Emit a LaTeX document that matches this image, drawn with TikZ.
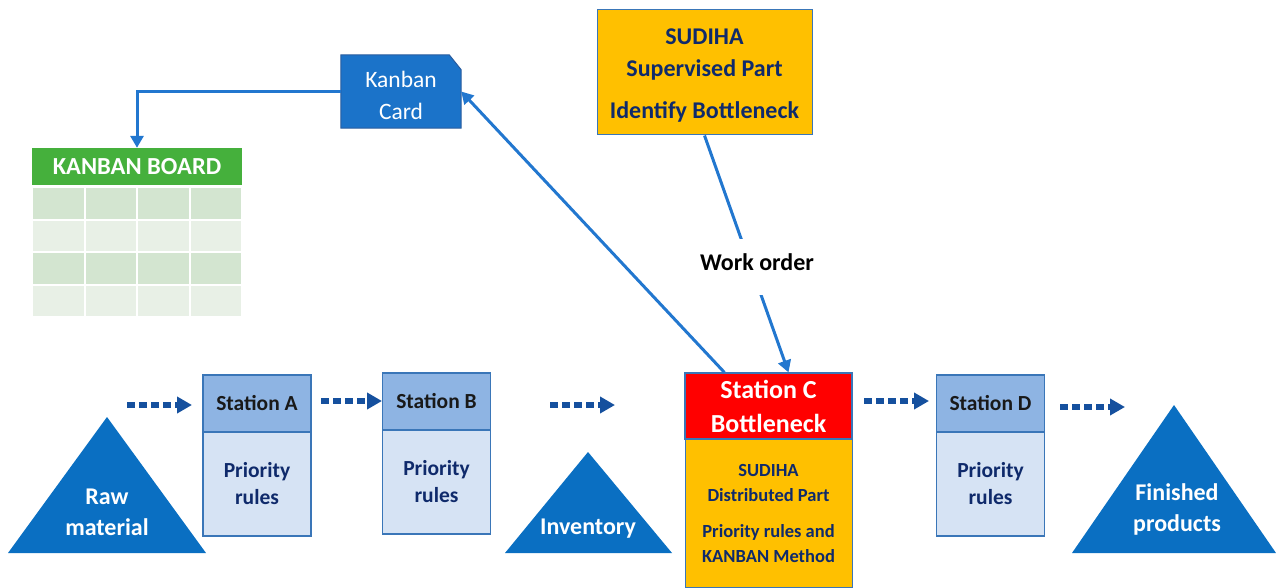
\documentclass[tikz,border=0pt]{standalone}
\usepackage{fontspec}
\setmainfont{Carlito}
\usetikzlibrary{arrows.meta,calc,backgrounds}

\definecolor{triblue}{HTML}{0A6FC2}
\definecolor{cardblue}{HTML}{1B73C9}
\definecolor{cardedge}{HTML}{2A5C9E}
\definecolor{linkblue}{HTML}{2277CF}
\definecolor{flowblue}{HTML}{15509E}
\definecolor{headblue}{HTML}{8EB4E3}
\definecolor{bodyblue}{HTML}{D6E3F4}
\definecolor{edgeblue}{HTML}{3A76B8}
\definecolor{navy}{HTML}{0F2A6B}
\definecolor{amber}{HTML}{FFC000}
\definecolor{boardgreen}{HTML}{45B03C}
\definecolor{cellA}{HTML}{D3E5D0}
\definecolor{cellB}{HTML}{E8F0E6}

\tikzset{
  txt/.style args={#1/#2}{font=\bfseries\fontsize{#1}{#2}\selectfont, align=center},
  sthead/.style={draw=edgeblue, line width=1.2pt, fill=headblue, minimum width=108pt,
    minimum height=57pt, inner sep=0pt, text=black!90, txt=21.5/26},
  stbody/.style={draw=edgeblue, line width=1.2pt, fill=bodyblue, minimum width=108pt,
    minimum height=104pt, inner sep=0pt, text=navy, txt=21.5/27},
  tri/.style={fill=triblue},
  tritext/.style={text=white, txt=24/31, inner sep=0pt},
  flow/.style={draw=flowblue, line width=6.5pt, dash pattern=on 7.5pt off 4.5pt,
    -{Triangle[length=15pt,width=16pt]}},
  link/.style={draw=linkblue, line width=3pt, -{Triangle[length=12pt,width=13pt]}},
  amberbox/.style={draw=edgeblue, line width=1pt, fill=amber, inner sep=0pt, text=navy},
  cell/.style={fill=#1, draw=white, line width=2pt},
}

\begin{document}
\begin{tikzpicture}[x=1pt,y=-1pt]
\useasboundingbox (0,0) rectangle (1276,588);

% ---- inventory triangles ----
\fill[tri] (8,553) -- (107,417) -- (206,553) -- cycle;
\node[tritext] (raw) at (107,512) {Raw\\material};
\fill[tri] (505,553) -- (588,452) -- (672,553) -- cycle;
\node[tritext] (inv) at (588,529) {Inventory};
\fill[tri] (1072,553) -- (1174,405) -- (1276,553) -- cycle;
\node[tritext] (fin) at (1177,509) {Finished\\products};

% ---- stations ----
\node[sthead] (ha) at (257,403.5) {Station A};
\node[stbody] (ba) at (257,484) {Priority\\rules};
\node[sthead] (hb) at (436.5,401.5) {Station B};
\node[stbody] (bb) at (436.5,482) {Priority\\rules};
\node[sthead] (hd) at (990.5,403.5) {Station D};
\node[stbody] (bd) at (990.5,484) {Priority\\rules};

% bottleneck station
\node[draw=edgeblue, line width=1.2pt, fill=red, minimum width=167pt, minimum height=66pt,
  inner sep=0pt, text=white, txt=26/34]
  (hc) at (768.5,406) {Station C\\Bottleneck};
\node[amberbox, minimum width=167pt, minimum height=148pt, txt=18.5/25]
  (bc) at (768.5,513) {SUDIHA\\Distributed Part\\[11pt]Priority rules and\\KANBAN Method};

% ---- supervised part ----
\node[amberbox, minimum width=215pt, minimum height=125pt, txt=24/32]
  (sup) at (704.5,72.5) {\vphantom{Ip}\\[-26pt]SUDIHA\\Supervised Part\\[10pt]Identify Bottleneck};

% ---- kanban card ----
\node[minimum width=120pt, minimum height=73pt, inner sep=0pt] (card) at (401,91.5) {};
\begin{scope}[on background layer]
  \fill[cardblue, draw=cardedge, line width=1pt]
    (card.south west) -- (card.north west) -- ($(card.north east)+(-12,0)$)
    -- ($(card.north east)+(0,15)$) -- (card.south east) -- cycle;
\end{scope}
\node[text=white, font=\fontsize{23.5}{32}\selectfont, align=center] (cardtxt)
  at (401,95.5) {Kanban\\Card};

% ---- kanban board ----
\node[fill=boardgreen, minimum width=210pt, minimum height=37pt, inner sep=0pt,
  text=white, txt=24.5/28] (board) at (137,166.5) {KANBAN BOARD};
\foreach \r/\y/\c in {0/187/cellA,1/219.5/cellB,2/252/cellA,3/284.5/cellB}
  \foreach \k in {0,1,2,3}
    \draw[cell=\c] ({32+\k*52.5},\y) rectangle ++(52.5,32.5);

% ---- flow arrows ----
\coordinate (f1s) at (127,405);  \coordinate (f1e) at (192,405);
\coordinate (f2s) at (321,401);  \coordinate (f2e) at (382,401);
\coordinate (f3s) at (550,405);  \coordinate (f3e) at (615,405);
\coordinate (f4s) at (864,401);  \coordinate (f4e) at (929,401);
\coordinate (f5s) at (1060,407); \coordinate (f5e) at (1125,407);
\foreach \i in {1,...,5} \draw[flow] (f\i s) -- (f\i e);

% ---- information links ----
\draw[link] (card.west) -| (board.north);
\draw[link] ($(hc.north west)+(40,0)$) -- (card.east);
\draw[link] (sup.south) -- ($(hc.north)+(20,0)$);
\node[fill=white, minimum width=24pt, minimum height=56pt, inner sep=0pt] (gap) at (751,267) {};
\node[text=black, txt=24/28] (wo) at (757,262) {Work order};
\end{tikzpicture}
\end{document}
